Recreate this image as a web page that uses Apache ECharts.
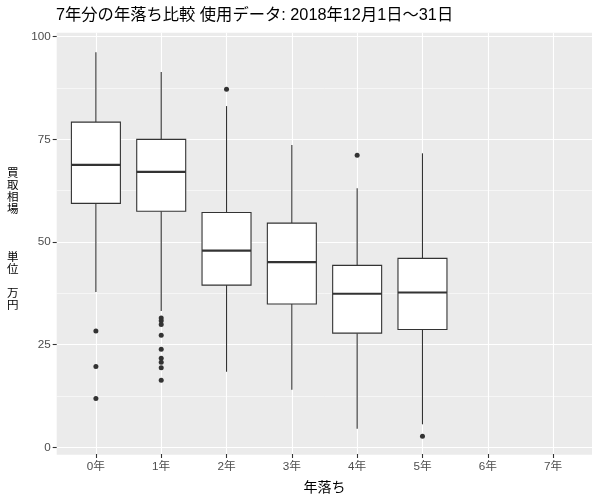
<!DOCTYPE html>
<html>
<head>
<meta charset="utf-8">
<script src="https://cdn.jsdelivr.net/npm/echarts@6/dist/echarts.min.js"></script>
<style>
  html, body { margin: 0; padding: 0; background: #fff; }
  #main { width: 600px; height: 500px; }
</style>
</head>
<body>
<div id="main"></div>
<script>
// 年落ち別の買取相場（箱ひげ図の要約値、単位：万円）
var categories = ["0年", "1年", "2年", "3年", "4年", "5年", "6年", "7年"];
var lowerWhisker = [37.8, 33.2, 18.4, 14.0, 4.5, 5.6];
var q1Values = [59.4, 57.5, 39.5, 34.9, 27.8, 28.7];
var medianValues = [68.8, 67.1, 47.9, 45.1, 37.4, 37.7];
var q3Values = [79.2, 75.0, 57.2, 54.6, 44.3, 46.0];
var upperWhisker = [96.2, 91.4, 83.1, 73.6, 63.1, 71.6];
var outliers = [
  [28.3, 19.7, 11.9],
  [31.5, 30.8, 29.9, 27.3, 23.9, 21.7, 20.7, 19.4, 16.3],
  [87.2],
  [],
  [71.1],
  [2.7]
];
var yTicks = [0, 25, 50, 75, 100];

var FONT = "'Liberation Sans', 'Noto Sans CJK JP', sans-serif";

var myChart = echarts.init(document.getElementById("main"));

var boxData = [];
var pointData = [];
for (var i = 0; i < medianValues.length; i++) {
  boxData.push([i, lowerWhisker[i], q1Values[i], medianValues[i], q3Values[i], upperWhisker[i]]);
  outliers[i].forEach(function (v) { pointData.push([i, v]); });
}

function renderBox(params, api) {
  var x = api.value(0);
  var lo = api.coord([x, api.value(1)]);
  var q1 = api.coord([x, api.value(2)]);
  var md = api.coord([x, api.value(3)]);
  var q3 = api.coord([x, api.value(4)]);
  var hi = api.coord([x, api.value(5)]);
  var halfW = api.size([1, 0])[0] * 0.375;
  var stroke = "#333333";
  return {
    type: "group",
    children: [
      { type: "line", shape: { x1: lo[0], y1: lo[1], x2: q1[0], y2: q1[1] }, style: { stroke: stroke, lineWidth: 1.1 } },
      { type: "line", shape: { x1: q3[0], y1: q3[1], x2: hi[0], y2: hi[1] }, style: { stroke: stroke, lineWidth: 1.1 } },
      { type: "rect", shape: { x: q3[0] - halfW, y: q3[1], width: halfW * 2, height: q1[1] - q3[1] },
        style: { fill: "#ffffff", stroke: stroke, lineWidth: 1.1 } },
      { type: "line", shape: { x1: md[0] - halfW, y1: md[1], x2: md[0] + halfW, y2: md[1] },
        style: { stroke: stroke, lineWidth: 2.2 } }
    ]
  };
}

var option = {
  animation: false,
  title: {
    text: "7年分の年落ち比較 使用データ: 2018年12月1日～31日",
    left: 56,
    top: 7,
    padding: 0,
    textStyle: { fontSize: 16.3, fontWeight: "normal", color: "#000", fontFamily: FONT }
  },
  grid: [
    // パネル背景
    { left: 56.7, right: 8, top: 32.7, bottom: 45.3, show: true, backgroundColor: "#EBEBEB", borderWidth: 0 },
    // 縦の目盛線とx軸
    { left: 95.9, right: 46.9, top: 32.7, bottom: 45.3 },
    // 横の目盛線とy軸
    { left: 56.7, right: 8, top: 36.7, bottom: 52.7 },
    // データ
    { left: 95.9, right: 46.9, top: 36.7, bottom: 52.7 }
  ],
  xAxis: [
    { gridIndex: 0, type: "value", show: false },
    {
      gridIndex: 1,
      type: "category",
      data: categories,
      boundaryGap: false,
      axisLine: { show: false },
      axisTick: { show: true, length: 4, lineStyle: { color: "#333333", width: 1.1 } },
      axisLabel: { color: "#4D4D4D", fontSize: 11.7, margin: 7, fontFamily: FONT, interval: 0 },
      splitLine: { show: true, lineStyle: { color: "#ffffff", width: 1.1 } },
      name: "年落ち",
      nameLocation: "middle",
      nameGap: 27,
      nameTextStyle: { color: "#000", fontSize: 14, fontFamily: FONT }
    },
    { gridIndex: 2, type: "value", show: false },
    { gridIndex: 3, type: "category", data: categories, boundaryGap: false, show: false }
  ],
  yAxis: [
    { gridIndex: 0, type: "value", show: false },
    { gridIndex: 1, type: "value", show: false },
    {
      gridIndex: 2,
      type: "value",
      min: yTicks[0],
      max: yTicks[yTicks.length - 1],
      interval: 25,
      axisLine: { show: false },
      axisTick: { show: true, length: 4, lineStyle: { color: "#333333", width: 1.1 } },
      axisLabel: { color: "#4D4D4D", fontSize: 11.7, margin: 6, fontFamily: FONT },
      splitLine: { show: true, lineStyle: { color: "#ffffff", width: 1.1 } },
      minorTick: { show: false, splitNumber: 2 },
      minorSplitLine: { show: true, lineStyle: { color: "#ffffff", width: 0.55 } }
    },
    { gridIndex: 3, type: "value", min: 0, max: 100, show: false }
  ],
  graphic: [
    {
      type: "text",
      left: 7,
      top: 168,
      style: {
        text: "買\n取\n相\n場\n\n\n\n単\n位\n\n万\n円",
        fontSize: 11.5,
        lineHeight: 12,
        fill: "#000",
        fontFamily: FONT,
        align: "left"
      }
    }
  ],
  series: [
    {
      name: "買取相場",
      type: "custom",
      xAxisIndex: 3,
      yAxisIndex: 3,
      renderItem: renderBox,
      encode: { x: 0, y: [1, 2, 3, 4, 5] },
      data: boxData,
      z: 2
    },
    {
      name: "外れ値",
      type: "scatter",
      xAxisIndex: 3,
      yAxisIndex: 3,
      symbolSize: 5,
      itemStyle: { color: "#333333", opacity: 1 },
      data: pointData,
      z: 3
    }
  ]
};

myChart.setOption(option);
</script>
</body>
</html>
